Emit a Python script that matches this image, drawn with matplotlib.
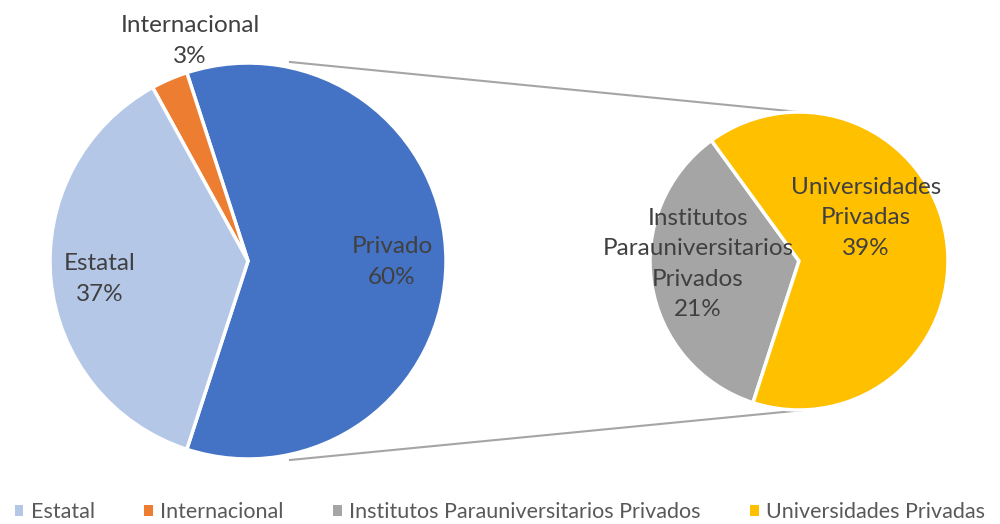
import matplotlib
matplotlib.use("Agg")
import matplotlib.pyplot as plt
from matplotlib.patches import Patch

# Data
main_labels = ["Privado", "Internacional", "Estatal"]
main_values = [60, 3, 37]
main_colors = ["#4472C4", "#ED7D31", "#B4C7E7"]

sub_labels = ["Institutos\nParauniversitarios\nPrivados", "Universidades\nPrivadas"]
sub_values = [21, 39]
sub_colors = ["#A5A5A5", "#FFC000"]

legend_labels = ["Estatal", "Internacional", "Institutos Parauniversitarios Privados", "Universidades Privadas"]
legend_colors = ["#B4C7E7", "#ED7D31", "#A5A5A5", "#FFC000"]

FONT = ["Lato", "DejaVu Sans"]
TXT = "#404040"

fig = plt.figure(figsize=(10, 5.24), dpi=100)
ax = fig.add_axes([0, 0, 1, 1])

c1 = (248, 263)
r1 = 198
c2 = (799, 263)
r2 = 149

total_main = sum(main_values)
start1 = -main_values[0] / total_main * 180
w1, _ = ax.pie(main_values, colors=main_colors, center=c1, radius=r1,
               startangle=start1, counterclock=True,
               wedgeprops=dict(edgecolor="white", linewidth=2.5), frame=True)

total_sub = sum(sub_values)
span = sub_values[0] / total_sub * 360
start2 = 189 - span / 2
w2, _ = ax.pie(sub_values, colors=sub_colors, center=c2, radius=r2,
               startangle=start2, counterclock=True,
               wedgeprops=dict(edgecolor="white", linewidth=2.5), frame=True)
ax.set_xlim(0, 1000)
ax.set_ylim(0, 524)
ax.set_aspect("equal")
ax.axis("off")

# connector lines
ax.plot([c1[0] + 42, c2[0]], [c1[1] + r1 + 1, c2[1] + r2], color="#A5A5A5", lw=1.5, zorder=0)
ax.plot([c1[0] + 42, c2[0] + 5], [c1[1] - r1 - 1, c2[1] - r2], color="#A5A5A5", lw=1.5, zorder=0)

fs = 17.5
kw = dict(ha="center", va="center", fontsize=fs, color=TXT, family=FONT, linespacing=1.55)
ax.text(190, 524 - 41, f"Internacional\n{main_values[1]}%", **kw)
ax.text(100, 524 - 279, f"Estatal\n{main_values[2]}%", **kw)
ax.text(392, 524 - 262, f"Privado\n{main_values[0]}%", **kw)
ax.text(698, 524 - 264, f"{sub_labels[0]}\n{sub_values[0]}%", **kw)
ax.text(866, 524 - 218, f"{sub_labels[1]}\n{sub_values[1]}%", **kw)

handles = [Patch(facecolor=c, edgecolor="none") for c in legend_colors]
fig.legend(handles, legend_labels, loc="center", bbox_to_anchor=(0.5, 12 / 524),
           ncol=4, frameon=False, prop=dict(family=FONT, size=15.5),
           labelcolor="#595959", handlelength=0.4, handleheight=0.4,
           handletextpad=0.35, columnspacing=2.3)

fig.savefig("out.png", dpi=100)
